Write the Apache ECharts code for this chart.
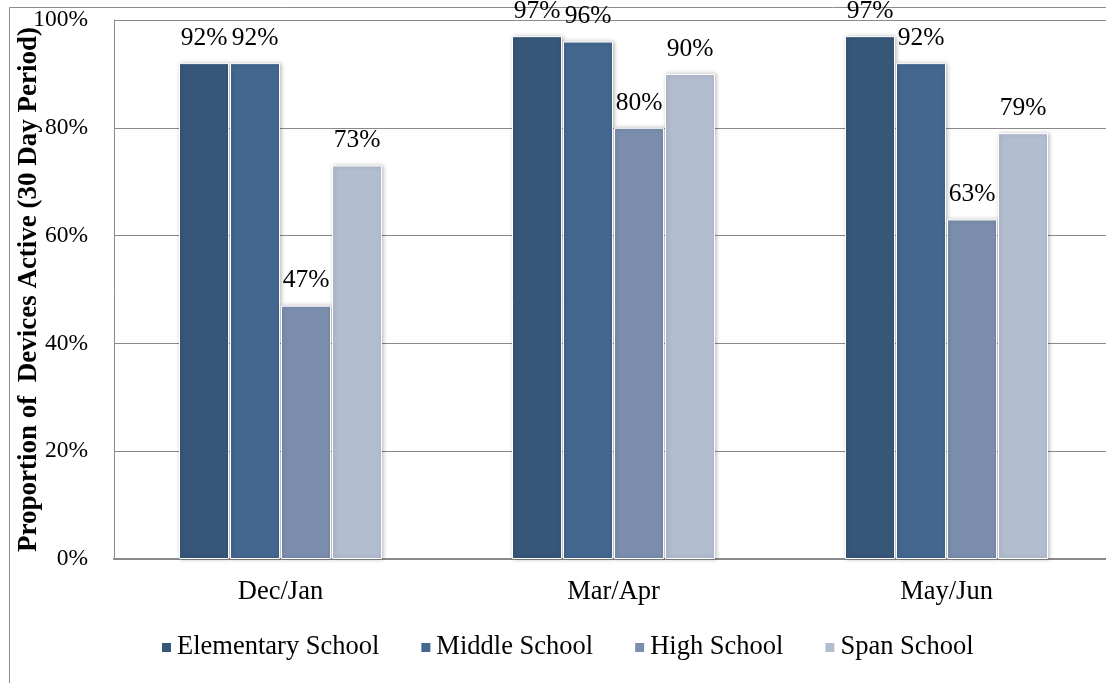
<!DOCTYPE html>
<html>
<head>
<meta charset="utf-8">
<script src="https://cdn.jsdelivr.net/npm/echarts@6/dist/echarts.min.js"></script>
<style>
  html, body { margin: 0; padding: 0; background: #fff; }
  #chart { width: 1106px; height: 683px; }
</style>
</head>
<body>
<div id="chart"></div>
<script>
// Survey periods on the category axis
const periods = ['Dec/Jan', 'Mar/Apr', 'May/Jun'];

// Share of devices active in a 30-day window, percent, by school type
const elementary = [92, 97, 97];
const middle = [92, 96, 92];
const high = [47, 80, 63];
const span = [73, 90, 79];

const seriesNames = ['Elementary School', 'Middle School', 'High School', 'Span School'];
const seriesValues = [elementary, middle, high, span];
const seriesColors = ['#375779', '#43678f', '#7b8eae', '#b3bdd0'];

const yTicks = { min: 0, max: 100, interval: 20 };

const serif = '"Liberation Serif", "Times New Roman", serif';

const chart = echarts.init(document.getElementById('chart'), null, { renderer: 'canvas' });

chart.setOption({
  animation: false,
  backgroundColor: '#ffffff',
  textStyle: { fontFamily: serif, color: '#000' },
  graphic: [{
    type: 'rect',
    left: 7, top: 5,
    shape: { width: 1300, height: 800 },
    style: { fill: 'none', stroke: '#8c8c8c', lineWidth: 1 },
    silent: true,
    z: -10
  }],
  grid: {
    left: 114, top: 20, width: 999, height: 539,
    containLabel: false,
    outerBoundsMode: 'none'
  },
  legend: {
    data: seriesNames,
    left: 160, top: 634,
    padding: 0,
    itemWidth: 11, itemHeight: 11,
    itemGap: 40,
    icon: 'rect',
    textStyle: { fontFamily: serif, fontSize: 26.5, color: '#000' }
  },
  xAxis: {
    type: 'category',
    data: periods,
    axisTick: { show: false },
    axisLine: { show: true, lineStyle: { color: '#8a8a8a', width: 2 } },
    axisLabel: { fontFamily: serif, fontSize: 26.5, color: '#000', margin: 20 }
  },
  yAxis: {
    type: 'value',
    min: yTicks.min, max: yTicks.max, interval: yTicks.interval,
    name: 'Proportion of  Devices Active (30 Day Period)',
    nameLocation: 'middle',
    nameGap: 71,
    nameMoveOverlap: false,
    nameRotate: 90,
    nameTextStyle: { fontFamily: serif, fontSize: 27, fontWeight: 'bold', color: '#000' },
    axisLine: { show: true, lineStyle: { color: '#8a8a8a', width: 1 } },
    axisTick: { show: false },
    axisLabel: { fontFamily: serif, fontSize: 23.5, color: '#000', margin: 26, formatter: '{value}%' },
    splitLine: { show: true, lineStyle: { color: '#8a8a8a', width: 1 } }
  },
  series: seriesNames.map((name, i) => ({
    name,
    type: 'bar',
    data: seriesValues[i],
    barWidth: 50,
    barGap: '2%',
    itemStyle: {
      color: seriesColors[i],
      borderColor: '#ffffff',
      borderWidth: 1,
      shadowBlur: 4,
      shadowColor: 'rgba(0,0,0,0.25)',
      shadowOffsetX: 1
    },
    label: {
      show: true,
      position: 'top',
      distance: 12,
      formatter: '{c}%',
      fontFamily: serif,
      fontSize: 25.5,
      color: '#000'
    }
  }))
});
</script>
</body>
</html>
